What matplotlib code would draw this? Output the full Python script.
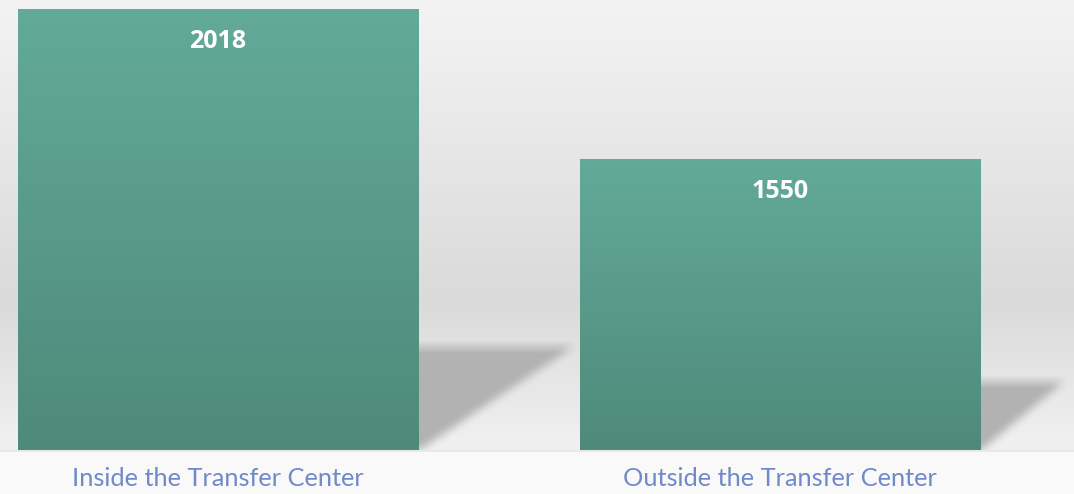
import numpy as np
import matplotlib.pyplot as plt
from matplotlib.colors import to_rgb

# chart data
categories = ['Inside the Transfer Center', 'Outside the Transfer Center']
counts = [2018, 1550]
positions = [0, 1]

bar_top = '#63aa99'
bar_bottom = '#4e8a7a'
label_blue = '#7089c8'

W, H = 1074, 494
fig = plt.figure(figsize=(W / 100, H / 100), dpi=100)

# bars axes: spans full width, baseline at 450 px from top
ax = fig.add_axes([0, 44 / H, 1, 450 / H])
ymin, ymax = 642, 2046
ax.set_xlim(-0.388, 1.523)
ax.set_ylim(ymin, ymax)
ax.axis('off')
ax.patch.set_alpha(0)
px = 450 / (ymax - ymin)  # pixels per data unit

bar_w = 0.712
bars = ax.bar(positions, counts, width=bar_w, color='none', zorder=3)

# vertical gradient inside each bar
grad = np.linspace(0, 1, 256)[:, None]
c0, c1 = np.array(to_rgb(bar_bottom)), np.array(to_rgb(bar_top))
bar_img = (c0 + (c1 - c0) * grad[..., None]) * np.ones((256, 2, 3))
for b in bars:
    x0 = b.get_x()
    im = ax.imshow(bar_img, extent=(x0, x0 + b.get_width(), ymin, b.get_height()),
                   origin='lower', aspect='auto', zorder=3, interpolation='bilinear')
    im.set_clip_path(b)
    ax.text(b.get_x() + b.get_width() / 2, b.get_height() - 39 / px, str(int(b.get_height())),
            ha='center', va='baseline', color='white', fontsize=18, fontweight='bold',
            family='Open Sans', zorder=5)

for p, c in zip(positions, categories):
    ax.text(p, ymin - 36 / px, c, ha='center', va='baseline', color=label_blue,
            fontsize=18.3, family='Lato', zorder=5, clip_on=False)

# background image in figure pixels: grey studio gradient + bar shadows
fig.canvas.draw()
yy = np.arange(H)[:, None] * np.ones((1, W))
xx = np.ones((H, 1)) * np.arange(W)[None, :]
base_px = 450
top_g, mid_g, low_g, floor_g = 0.955, 0.855, 0.945, 0.98
bg = np.where(yy < 300, top_g + (mid_g - top_g) * yy / 300,
              mid_g + (low_g - mid_g) * (yy - 300) / (base_px - 300))

shade = np.zeros((H, W))
for b in bars:
    (x_l, y_b), (x_r, y_t) = ax.transData.transform(
        [(b.get_x(), ymin), (b.get_x() + b.get_width(), b.get_height())])
    y_b, y_t = H - y_b, H - y_t
    h = y_b - y_t
    depth = 0.235 * h
    reach = 0.01674 * h ** 1.5
    sy = y_b - depth
    t = (yy - sy) / depth
    edge = x_r + reach * (1 - t)
    inside = (t >= 0) & (t <= 1) & (xx >= x_r - 10) & (xx <= edge)
    shade = np.maximum(shade, inside.astype(float))

# simple box blur
k = 6
pad = np.pad(shade, k, mode='edge')
cs = np.cumsum(np.cumsum(pad, 0), 1)
cs = np.pad(cs, ((1, 0), (1, 0)))
n = 2 * k + 1
blur = (cs[n:, n:] - cs[:-n, n:] - cs[n:, :-n] + cs[:-n, :-n]) / (n * n)
blur = blur[:H, :W]
shadow_g = 0.70
bg = bg * (1 - blur) + shadow_g * blur
bg = np.where(yy >= base_px, np.where((yy < base_px + 2), 0.91, floor_g), bg)

bg_ax = fig.add_axes([0, 0, 1, 1], zorder=-1)
bg_ax.imshow(np.dstack([bg] * 3), extent=(0, W, H, 0), aspect='auto', interpolation='bilinear')
bg_ax.axis('off')

fig.savefig('out.png', dpi=100)
